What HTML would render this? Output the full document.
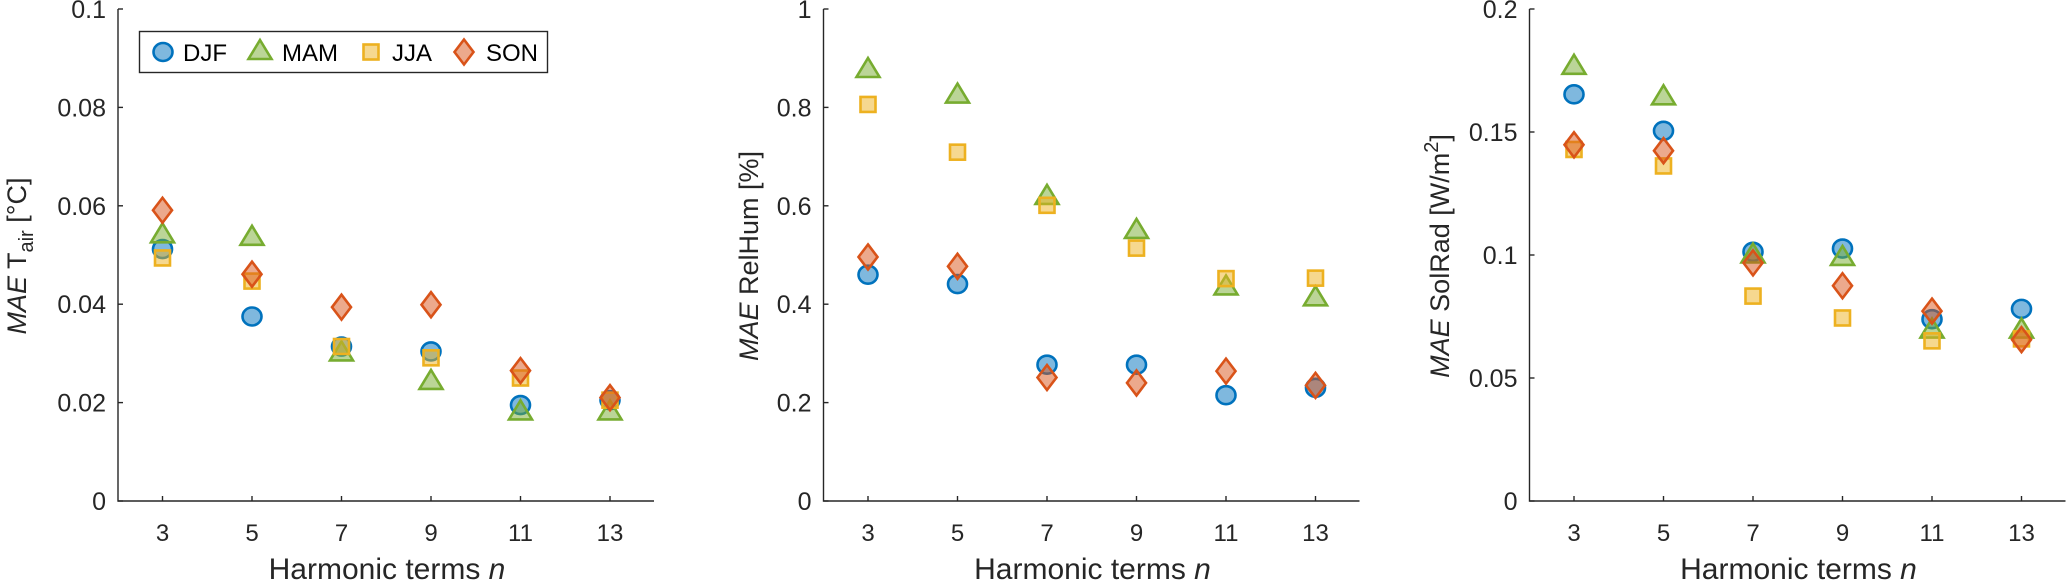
<!DOCTYPE html>
<html><head><meta charset="utf-8"><style>
html,body{margin:0;padding:0;background:#fff;}
svg{display:block;font-family:"Liberation Sans",Arial,sans-serif;}
</style></head><body>
<svg id="fig" width="2067" height="582" viewBox="0 0 2067 582" xmlns="http://www.w3.org/2000/svg"></svg>
<script>
const categories = [3, 5, 7, 9, 11, 13];
const seriesNames = ["DJF", "MAM", "JJA", "SON"];
const tairDJF = [0.0512, 0.0375, 0.0314, 0.0304, 0.0195, 0.0205];
const tairMAM = [0.054, 0.0535, 0.030, 0.0242, 0.018, 0.018];
const tairJJA = [0.0494, 0.0447, 0.0314, 0.0291, 0.025, 0.0205];
const tairSON = [0.0591, 0.0461, 0.0394, 0.0399, 0.0265, 0.021];
const rhDJF = [0.46, 0.441, 0.277, 0.277, 0.215, 0.230];
const rhMAM = [0.876, 0.824, 0.618, 0.549, 0.434, 0.412];
const rhJJA = [0.806, 0.709, 0.601, 0.514, 0.452, 0.453];
const rhSON = [0.496, 0.477, 0.251, 0.240, 0.264, 0.235];
const srDJF = [0.1653, 0.1505, 0.1013, 0.1026, 0.0739, 0.0781];
const srMAM = [0.1765, 0.1641, 0.0998, 0.0988, 0.0693, 0.0693];
const srJJA = [0.1429, 0.1362, 0.0833, 0.0744, 0.0651, 0.0659];
const srSON = [0.1448, 0.1424, 0.0968, 0.0875, 0.0772, 0.0656];
const tairTicks = ["0", "0.02", "0.04", "0.06", "0.08", "0.1"];
const rhTicks = ["0", "0.2", "0.4", "0.6", "0.8", "1"];
const srTicks = ["0", "0.05", "0.1", "0.15", "0.2"];

const NS = "http://www.w3.org/2000/svg";
const svg = document.getElementById("fig");
function mk(tag, attrs, parent) {
  const e = document.createElementNS(NS, tag);
  for (const k in attrs) e.setAttribute(k, attrs[k]);
  (parent || svg).appendChild(e);
  return e;
}
const STY = {
  DJF: {stroke: "#0072BD", fill: "#0072BD"},
  MAM: {stroke: "#77AC30", fill: "#77AC30"},
  JJA: {stroke: "#EDB120", fill: "#EDB120"},
  SON: {stroke: "#D95319", fill: "#D95319"}
};
function marker(name, cx, cy, parent) {
  const s = STY[name];
  const a = {stroke: s.stroke, fill: s.fill, "fill-opacity": 0.5, "stroke-width": 2.6};
  let e;
  if (name === "DJF") { e = mk("ellipse", Object.assign({cx: cx, cy: cy, rx: 9.5, ry: 9}, a), parent); }
  else if (name === "MAM") { e = mk("polygon", Object.assign({points: `${cx},${cy-12} ${cx+11.5},${cy+7} ${cx-11.5},${cy+7}`}, a), parent); }
  else if (name === "JJA") { e = mk("rect", Object.assign({x: cx-7.5, y: cy-7.5, width: 15, height: 15}, a), parent); }
  else { e = mk("polygon", Object.assign({points: `${cx},${cy-12.5} ${cx+9.5},${cy} ${cx},${cy+12.5} ${cx-9.5},${cy}`}, a), parent); }
  return e;
}
const TOP = 9, BOT = 501;
function panel(id, axisX, ymax, ticks, series, ylabelX, ylabelParts) {
  const g = mk("g", {});
  
  
  const xs = v => axisX + 44.5 + (v - 3) / 2 * 89.5;
  const ys = v => BOT - v / ymax * (BOT - TOP);
  const right = axisX + 536;
  const ax = mk("path", {d: `M${axisX},${TOP} L${axisX},${BOT} L${right},${BOT}`, fill: "none", stroke: "#262626", "stroke-width": 1.4}, g);
  
  
  ticks.forEach((t, i) => {
    const v = ymax * i / (ticks.length - 1);
    const y = ys(v);
    mk("line", {x1: axisX, x2: axisX + 5, y1: y, y2: y, stroke: "#262626", "stroke-width": 1.4}, g);
    const tx = mk("text", {x: axisX - 12, y: y + 9, "text-anchor": "end", "font-size": 25, fill: "#262626"}, g);
    tx.textContent = t;
    
    
  });
  categories.forEach(c => {
    const x = xs(c);
    mk("line", {x1: x, x2: x, y1: BOT, y2: BOT - 5, stroke: "#262626", "stroke-width": 1.4}, g);
    const tx = mk("text", {x: x, y: 541, "text-anchor": "middle", "font-size": 24, fill: "#262626"}, g);
    tx.textContent = c;
    
    
  });
  const xl = mk("text", {x: axisX + 269, y: 579, "text-anchor": "middle", "font-size": 30, fill: "#262626"}, g);
  xl.innerHTML = 'Harmonic terms <tspan font-style="italic">n</tspan>';
  
  
  const yl = mk("text", {x: 0, y: 0, "text-anchor": "middle", "font-size": 27, fill: "#262626", transform: `translate(${ylabelX},256) rotate(-90)`}, g);
  yl.innerHTML = ylabelParts;
  
  
  seriesNames.forEach((name, si) => {
    series[si].forEach((v, i) => {
      const m = marker(name, xs(categories[i]), ys(v), g);
      
      
    });
  });
}
panel("tair", 118, 0.1, tairTicks, [tairDJF, tairMAM, tairJJA, tairSON], 26,
  '<tspan font-style="italic">MAE</tspan> T<tspan font-size="20" dy="7">air</tspan><tspan dy="-7"> [°C]</tspan>');
panel("relhum", 823.5, 1, rhTicks, [rhDJF, rhMAM, rhJJA, rhSON], 758,
  '<tspan font-style="italic">MAE</tspan> RelHum [%]');
panel("solrad", 1529.5, 0.2, srTicks, [srDJF, srMAM, srJJA, srSON], 1449,
  '<tspan font-style="italic">MAE</tspan> SolRad [W/m<tspan font-size="20" dy="-11">2</tspan><tspan dy="11">]</tspan>');

// legend
const lg = mk("g", {});


mk("rect", {x: 139.5, y: 31.5, width: 408, height: 41, fill: "#fff", stroke: "#262626", "stroke-width": 1.4}, lg);
const legX = [163, 260, 371, 464];
const legT = [183, 282, 392, 486];
seriesNames.forEach((name, i) => {
  const m = marker(name, legX[i], 52, lg);
  
  
  const t = mk("text", {x: legT[i], y: 61, "font-size": 24, fill: "#000"}, lg);
  t.textContent = name;
  
  
});
</script>
</body></html>
